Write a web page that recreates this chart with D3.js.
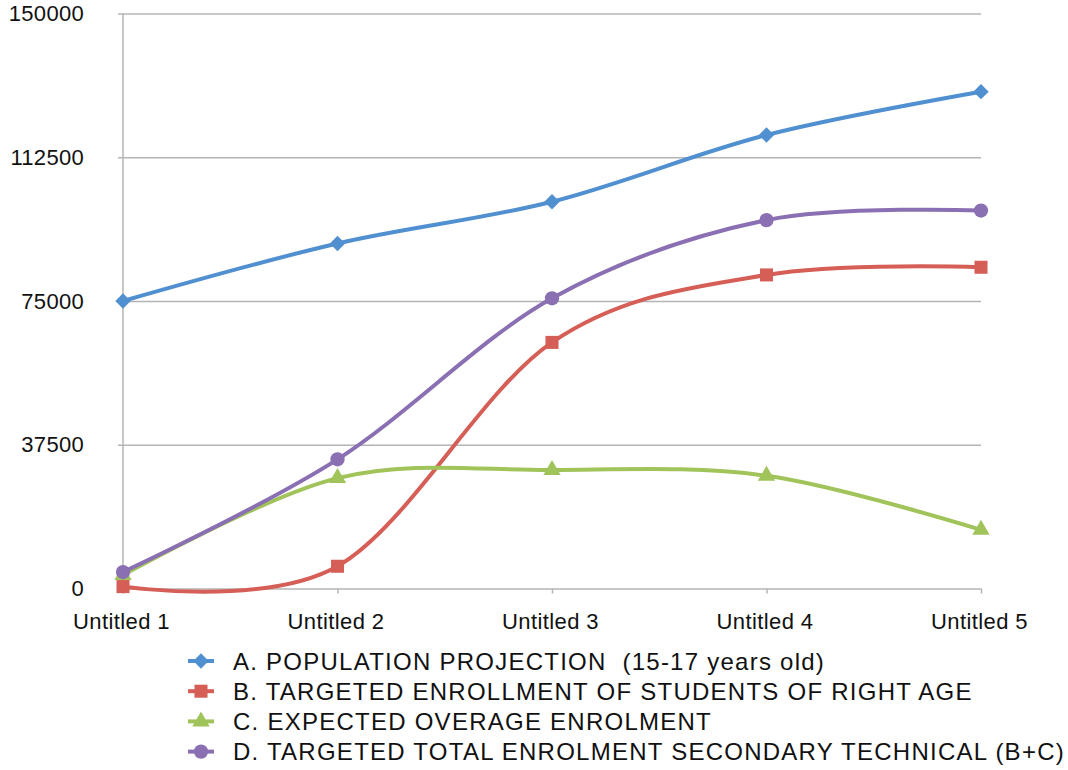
<!DOCTYPE html>
<html>
<head>
<meta charset="utf-8">
<script src="https://cdn.jsdelivr.net/npm/d3@7"></script>
<style>
  html, body { margin: 0; padding: 0; background: #ffffff; }
  svg { display: block; font-family: "Liberation Sans", Helvetica, Arial, sans-serif; }
  text { white-space: pre; }
</style>
</head>
<body>
<svg id="chart" width="1068" height="770"></svg>
<script>
// Categories along the x axis
const categories = ["Untitled 1", "Untitled 2", "Untitled 3", "Untitled 4", "Untitled 5"];

// Series values
const populationProjection = [75000, 90000, 100900, 118300, 129600];
const targetedRightAge     = [500, 5800, 64200, 81800, 83800];
const overageEnrolment     = [3500, 28800, 30900, 29400, 15300];
const targetedTotal        = [4300, 33700, 75700, 96100, 98600];

// Series names
const seriesNames = [
  "A. POPULATION PROJECTION  (15-17 years old)",
  "B. TARGETED ENROLLMENT OF STUDENTS OF RIGHT AGE",
  "C. EXPECTED OVERAGE ENROLMENT",
  "D. TARGETED TOTAL ENROLMENT SECONDARY TECHNICAL (B+C)"
];

// Y axis tick values
const yTicks = [0, 37500, 75000, 112500, 150000];

const series = [
  { name: seriesNames[0], values: populationProjection, color: "#5190d0", symbol: d3.symbolDiamond2, size: 150 },
  { name: seriesNames[1], values: targetedRightAge,     color: "#d55e56", symbol: d3.symbolSquare,   size: 170 },
  { name: seriesNames[2], values: overageEnrolment,     color: "#a0c35a", symbol: d3.symbolTriangle, size: 130 },
  { name: seriesNames[3], values: targetedTotal,        color: "#8a6fb3", symbol: d3.symbolCircle,   size: 160 }
];

const svg = d3.select("#chart");
const plot = { left: 123, right: 981, top: 13.5, bottom: 588.5 };

const x = d3.scalePoint().domain(categories).range([plot.left, plot.right]);
const y = d3.scaleLinear().domain([0, 150000]).range([plot.bottom, plot.top]);

const gridColor = "#b4b4b4";
const fontStack = "\"Liberation Sans\", Helvetica, Arial, sans-serif";

// Horizontal gridlines with y labels
const yAxis = d3.axisLeft(y)
  .tickValues(yTicks)
  .tickSize(-(plot.right - plot.left) - 5)
  .tickPadding(39)
  .tickFormat(d3.format("d"));

const gy = svg.append("g")
  .attr("transform", `translate(${plot.left},0)`)
  .call(yAxis);
gy.select(".domain").remove();
gy.selectAll(".tick line")
  .attr("x1", -5)
  .attr("x2", plot.right - plot.left)
  .attr("stroke", gridColor)
  .attr("stroke-width", 1.5);
gy.selectAll(".tick text")
  .attr("font-size", 22)
  .attr("letter-spacing", 0.3)
  .attr("fill", "#111")
  .attr("font-family", fontStack);

// Vertical axis line
svg.append("line")
  .attr("x1", plot.left).attr("x2", plot.left)
  .attr("y1", plot.top).attr("y2", plot.bottom + 5)
  .attr("stroke", gridColor).attr("stroke-width", 1.5);

// Category axis
const xAxis = d3.axisBottom(x).tickSize(5).tickPadding(20);
const gx = svg.append("g")
  .attr("transform", `translate(0,${plot.bottom})`)
  .call(xAxis);
gx.select(".domain").remove();
gx.selectAll(".tick line").attr("stroke", gridColor).attr("stroke-width", 1.5);
gx.selectAll(".tick text")
  .attr("font-size", 22)
  .attr("letter-spacing", 0.4)
  .attr("dx", -2)
  .attr("fill", "#111")
  .attr("font-family", fontStack);

// Smoothed lines
const line = d3.line()
  .x((d, i) => x(categories[i]))
  .y(d => y(d))
  .curve(d3.curveCardinal.tension(0));

const lines = svg.append("g");
series.forEach(s => {
  lines.append("path")
    .datum(s.values)
    .attr("d", line)
    .attr("fill", "none")
    .attr("stroke", s.color)
    .attr("stroke-width", 4)
    .attr("stroke-linejoin", "round");
});

// Markers
series.forEach(s => {
  lines.append("g")
    .selectAll("path")
    .data(s.values)
    .join("path")
    .attr("transform", (d, i) => `translate(${x(categories[i])},${y(d)})`)
    .attr("d", d3.symbol().type(s.symbol).size(s.size))
    .attr("fill", s.color);
});

// Legend
const legend = svg.append("g").attr("transform", "translate(188,661)");
series.forEach((s, i) => {
  const row = legend.append("g").attr("transform", `translate(0,${i * 30.2})`);
  row.append("line")
    .attr("x1", 0).attr("x2", 26)
    .attr("y1", 0).attr("y2", 0)
    .attr("stroke", s.color).attr("stroke-width", 4);
  row.append("path")
    .attr("transform", "translate(13,0)")
    .attr("d", d3.symbol().type(s.symbol).size(s.size))
    .attr("fill", s.color);
  row.append("text")
    .attr("x", 45)
    .attr("y", 8.5)
    .attr("font-size", 24)
    .attr("letter-spacing", 1.25)
    .attr("fill", "#111")
    .text(s.name);
});
</script>
</body>
</html>
